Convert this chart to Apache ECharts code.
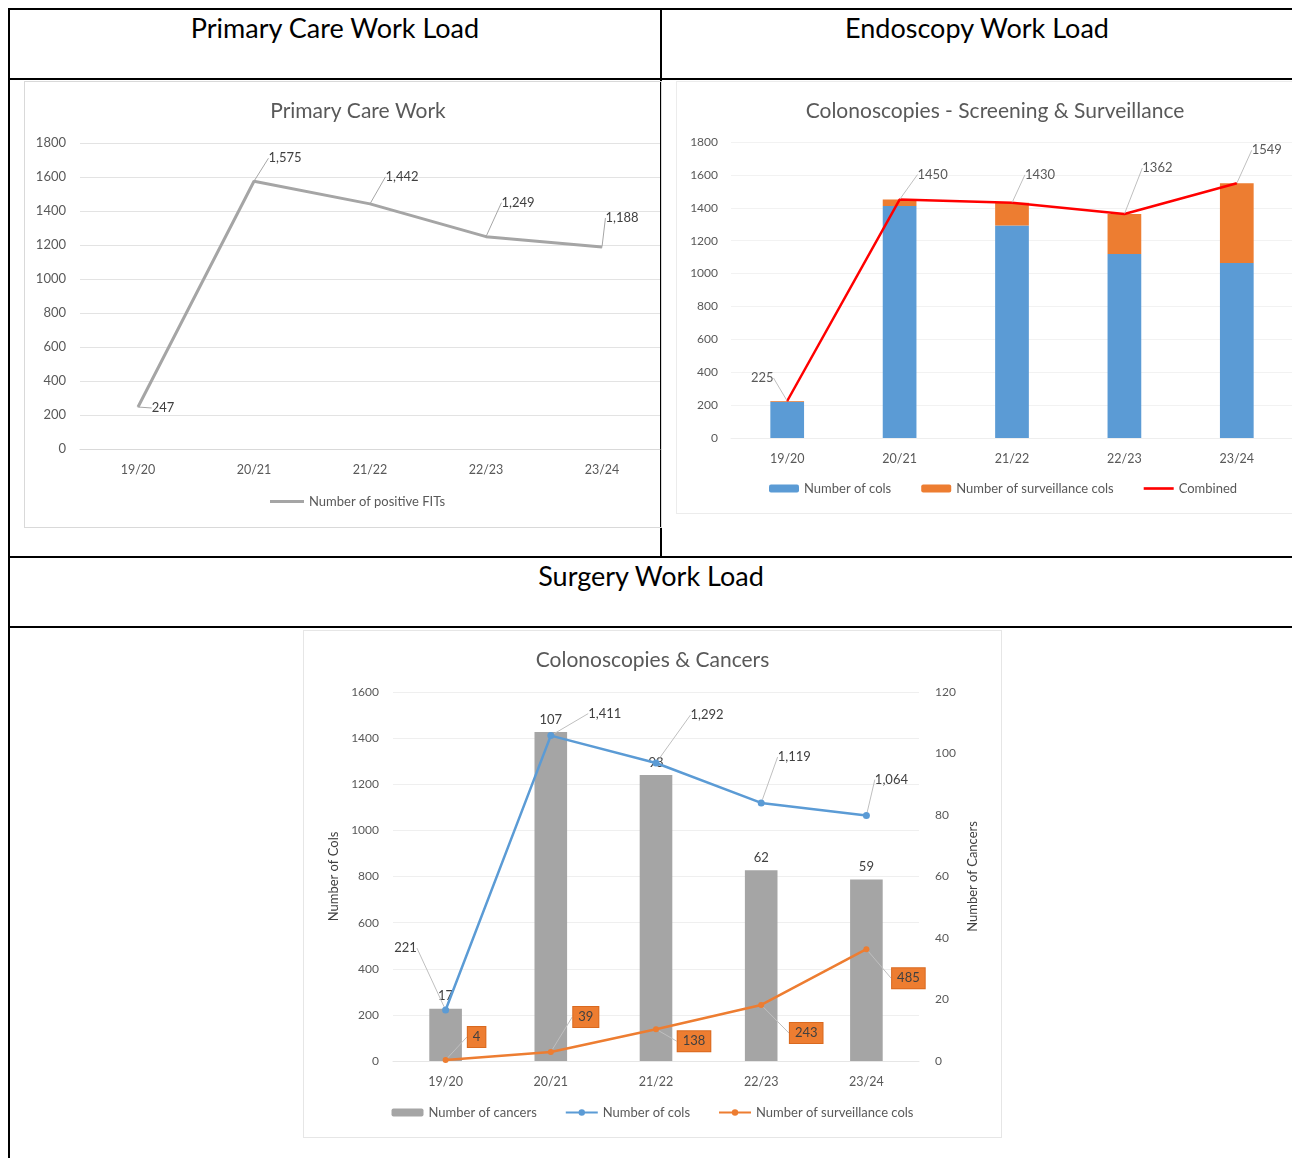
<!DOCTYPE html>
<html>
<head>
<meta charset="utf-8">
<script src="https://cdn.jsdelivr.net/npm/echarts@6/dist/echarts.min.js"></script>
<style>
body{margin:0;width:1292px;height:1158px;overflow:hidden;background:#fff;position:relative;font-family:Lato,'Open Sans',sans-serif;}
.ln{position:absolute;background:#000;}
.hd{position:absolute;text-align:center;font-size:27px;line-height:30px;color:#000;}
.box{position:absolute;border:1px solid #d9d9d9;box-sizing:border-box;}
</style>
</head>
<body>
<!-- table lines -->
<div class="ln" style="left:8px;top:8px;width:1290px;height:2px"></div>
<div class="ln" style="left:8px;top:8px;width:2px;height:1150px"></div>
<div class="ln" style="left:660px;top:8px;width:2px;height:550px"></div>
<div class="ln" style="left:8px;top:78px;width:1290px;height:2px"></div>
<div class="ln" style="left:8px;top:556px;width:1290px;height:2px"></div>
<div class="ln" style="left:8px;top:626px;width:1290px;height:2px"></div>

<div class="hd" style="left:10px;top:13px;width:650px">Primary Care Work Load</div>
<div class="hd" style="left:662px;top:13px;width:630px">Endoscopy Work Load</div>
<div class="hd" style="left:10px;top:561px;width:1282px">Surgery Work Load</div>

<div id="graph1" class="box" style="left:24px;top:81px;width:638px;height:447px"></div>
<div id="graph2" class="box" style="left:676px;top:81px;width:618px;height:433px;border-color:#ececec"></div>
<div id="graph3" class="box" style="left:303px;top:630px;width:699px;height:508px;border-color:#e6e6e6"></div>

<script>
// 年度
var years = ['19/20', '20/21', '21/22', '22/23', '23/24'];

// primary care
var positiveFits = [247, 1575, 1442, 1249, 1188];

// endoscopy
var endoCols = [221, 1411, 1292, 1119, 1064];
var endoSurv = [4, 39, 138, 243, 485];
var endoCombined = [225, 1450, 1430, 1362, 1549];

// surgery
var cancers = [17, 107, 93, 62, 59];
var surgCols = [221, 1411, 1292, 1119, 1064];
var surgSurv = [4, 39, 138, 243, 485];

// label offsets (callouts), dx/dy from the point
var fitShift = [[25, 1], [31, -23], [32, -27], [32, -34], [20, -29]];
var combShift = [[-25, -23], [33, -25], [28, -28], [33, -46], [30, -33]];
var colsShift = [[-40, -62], [54, -22], [51, -48], [33, -46], [25, -36]];
var survShift = [[31, -23], [35, -35], [38, 12], [45, 28], [42, 29]];

var txt = '#595959';
var font = 'Lato';
var lineIcon = 'path://M0,0L34,0L34,3L0,3Z';

function shifter(arr) {
    return function (p) {
        return {dx: arr[p.dataIndex][0], dy: arr[p.dataIndex][1]};
    };
}

function fmt(v) {
    return v.value.toLocaleString('en-US');
}

function plain(v) {
    return String(v);
}

// ---------- chart 1 ----------
var chart1 = echarts.init(document.getElementById('graph1'));
chart1.setOption({
    textStyle: {fontFamily: font},
    animation: false,
    title: {
        text: 'Primary Care Work',
        left: 328,
        textAlign: 'center',
        top: 14,
        textStyle: {color: txt, fontSize: 21, fontWeight: 'normal', fontFamily: font}
    },
    legend: {
        bottom: 14,
        left: 240,
        itemWidth: 34,
        itemHeight: 8,
        itemGap: 0,
        textStyle: {color: txt, fontSize: 13},
        data: [{name: 'Number of positive FITs', icon: lineIcon}]
    },
    grid: {left: 55, right: 1, top: 61, bottom: 78},
    xAxis: {
        type: 'category',
        data: years,
        axisTick: {show: false},
        axisLine: {lineStyle: {color: '#d9d9d9'}},
        axisLabel: {color: txt, fontSize: 12.5, margin: 14}
    },
    yAxis: {
        type: 'value',
        min: 0, max: 1800, interval: 200,
        axisLabel: {color: txt, fontSize: 13, margin: 14, formatter: plain},
        splitLine: {lineStyle: {color: '#e3e3e3'}}
    },
    series: [{
        name: 'Number of positive FITs',
        type: 'line',
        data: positiveFits,
        symbol: 'circle',
        symbolSize: 1,
        lineStyle: {color: '#a5a5a5', width: 3},
        itemStyle: {color: '#a5a5a5'},
        label: {show: true, position: 'inside', color: '#404040', fontSize: 13, formatter: fmt},
        labelLayout: shifter(fitShift),
        labelLine: {show: true, lineStyle: {color: '#a6a6a6', width: 1}}
    }]
});

// ---------- chart 2 ----------
var chart2 = echarts.init(document.getElementById('graph2'));
chart2.setOption({
    textStyle: {fontFamily: font},
    animation: false,
    title: {
        text: 'Colonoscopies - Screening & Surveillance',
        left: 313,
        textAlign: 'center',
        top: 14,
        textStyle: {color: txt, fontSize: 21, fontWeight: 'normal', fontFamily: font}
    },
    legend: {
        bottom: 13,
        left: 87,
        itemWidth: 30,
        itemHeight: 8,
        itemGap: 30,
        textStyle: {color: txt, fontSize: 13},
        data: ['Number of cols', 'Number of surveillance cols', {name: 'Combined', icon: lineIcon}]
    },
    grid: {left: 54, right: 0, top: 60, bottom: 75},
    xAxis: {
        type: 'category',
        data: years,
        axisTick: {show: false},
        axisLine: {lineStyle: {color: '#eeeeee'}},
        axisLabel: {color: txt, fontSize: 12.5, margin: 14}
    },
    yAxis: {
        type: 'value',
        min: 0, max: 1800, interval: 200,
        axisLabel: {color: txt, fontSize: 12, margin: 13, formatter: plain},
        splitLine: {lineStyle: {color: '#f2f2f2'}}
    },
    series: [{
        name: 'Number of cols',
        type: 'bar',
        stack: 'cols',
        barWidth: '30%',
        itemStyle: {color: '#5b9bd5'},
        data: endoCols
    }, {
        name: 'Number of surveillance cols',
        type: 'bar',
        stack: 'cols',
        barWidth: '30%',
        itemStyle: {color: '#ed7d31'},
        data: endoSurv
    }, {
        name: 'Combined',
        type: 'line',
        data: endoCombined,
        symbol: 'circle',
        symbolSize: 1,
        lineStyle: {color: '#ff0000', width: 2.5},
        itemStyle: {color: '#ff0000'},
        label: {show: true, position: 'inside', color: '#595959', fontSize: 13},
        labelLayout: shifter(combShift),
        labelLine: {show: true, lineStyle: {color: '#bfbfbf', width: 1}}
    }]
});

// ---------- chart 3 ----------
var chart3 = echarts.init(document.getElementById('graph3'));
chart3.setOption({
    textStyle: {fontFamily: font},
    animation: false,
    title: {
        text: 'Colonoscopies & Cancers',
        left: 'center',
        top: 14,
        textStyle: {color: txt, fontSize: 21, fontWeight: 'normal', fontFamily: font}
    },
    legend: {
        bottom: 13,
        left: 'center',
        itemWidth: 32,
        itemHeight: 8,
        itemGap: 28,
        textStyle: {color: txt, fontSize: 13},
        data: ['Number of cancers', 'Number of cols', 'Number of surveillance cols']
    },
    grid: {left: 89, right: 82, top: 61, bottom: 76},
    xAxis: {
        type: 'category',
        data: years,
        axisTick: {show: false},
        axisLine: {lineStyle: {color: '#e6e6e6'}},
        axisLabel: {color: txt, fontSize: 12.5, margin: 14}
    },
    yAxis: [{
        type: 'value',
        min: 0, max: 1600, interval: 200,
        name: 'Number of Cols',
        nameLocation: 'middle',
        nameRotate: 90,
        nameGap: 51,
        nameTextStyle: {color: '#404040', fontSize: 13},
        axisLabel: {color: txt, fontSize: 12, margin: 14, formatter: plain},
        splitLine: {lineStyle: {color: '#efefef'}}
    }, {
        type: 'value',
        min: 0, max: 120, interval: 20,
        name: 'Number of Cancers',
        nameLocation: 'middle',
        nameRotate: 90,
        nameGap: 45,
        nameTextStyle: {color: '#404040', fontSize: 13},
        axisLabel: {color: txt, fontSize: 12, margin: 16},
        splitLine: {show: false}
    }],
    series: [{
        name: 'Number of cancers',
        type: 'bar',
        yAxisIndex: 1,
        barWidth: '31%',
        itemStyle: {color: '#a5a5a5'},
        label: {show: true, position: 'top', color: '#404040', fontSize: 13, distance: 6},
        data: cancers
    }, {
        name: 'Number of cols',
        type: 'line',
        data: surgCols,
        symbol: 'circle',
        symbolSize: 7,
        lineStyle: {color: '#5b9bd5', width: 2.5},
        itemStyle: {color: '#5b9bd5'},
        label: {show: true, position: 'inside', color: '#404040', fontSize: 13, formatter: fmt},
        labelLayout: shifter(colsShift),
        labelLine: {show: true, lineStyle: {color: '#bfbfbf', width: 1}}
    }, {
        name: 'Number of surveillance cols',
        type: 'line',
        data: surgSurv,
        symbol: 'circle',
        symbolSize: 6,
        lineStyle: {color: '#ed7d31', width: 2.5},
        itemStyle: {color: '#ed7d31'},
        label: {
            show: true, position: 'inside', color: '#404040', fontSize: 13,
            backgroundColor: '#ed7d31', borderColor: '#d9691f', borderWidth: 1,
            padding: [4, 5, 3, 5]
        },
        labelLayout: shifter(survShift),
        labelLine: {show: true, lineStyle: {color: '#bfbfbf', width: 1}}
    }]
});
</script>
</body>
</html>
